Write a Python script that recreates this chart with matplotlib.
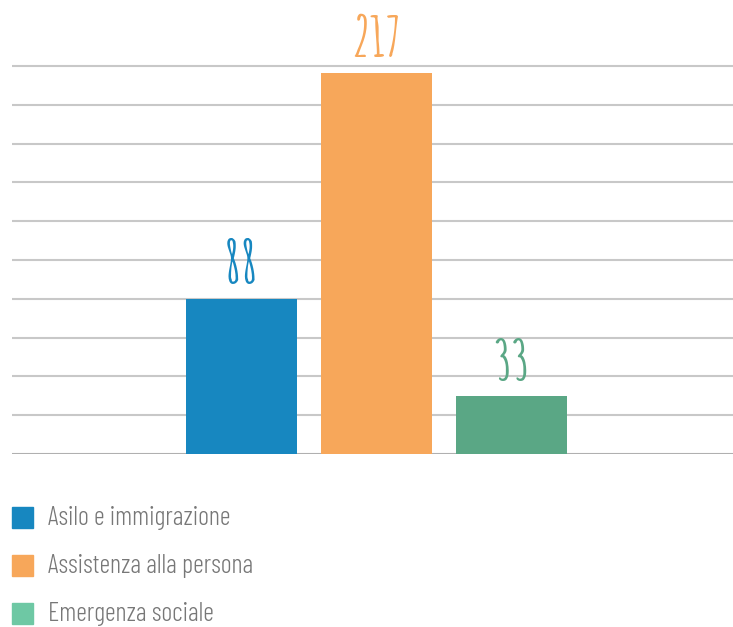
import numpy as np
import matplotlib.pyplot as plt
import matplotlib.patches as mpatches

categories = ['Asilo e immigrazione', 'Assistenza alla persona', 'Emergenza sociale']
values = [88, 217, 33]
bar_colors = ['#1787c0', '#f7a75a', '#5aa785']
legend_colors = ['#1787c0', '#f7a75a', '#6ec8a4']

W, H = 733, 627
fig = plt.figure(figsize=(W / 100, H / 100), dpi=100)
base_px, top_px = 454, 73  # baseline and top of the 217 bar, in pixels
ax = fig.add_axes([12 / W, (H - base_px) / H, 1 - 12 / W, base_px / H])
scale = (base_px - top_px) / values[1]
ax.set_ylim(0, base_px / scale)
ax.set_xlim((12 - 241.5) / 135, (733 - 241.5) / 135)

# horizontal grid, 10 bands up to the top line
step = (base_px - 66) / scale / 10
for k in range(11):
    ax.axhline(k * step, color='#c8c8c8' if k else '#b0b0b0', lw=1.5, zorder=0)

x = np.arange(len(values))
ax.bar(x, values, width=111 / 135, color=bar_colors, zorder=2)
for xi, v, c in zip(x, values, bar_colors):
    ax.text(xi, v + 15 / scale, str(v), ha='center', va='bottom', color=c,
            fontsize=40, family='Amatic SC', fontweight='bold')
ax.axis('off')

for i, (lab, c) in enumerate(zip(categories, legend_colors)):
    y = 517.5 + 48 * i
    fig.patches.append(mpatches.Rectangle((12 / W, 1 - (y + 10.5) / H), 21 / W, 21 / H,
                                          transform=fig.transFigure, color=c))
    fig.text(48 / W, 1 - (y + 8) / H, lab, va='baseline', ha='left', color='#777777',
             fontsize=19, family='Barlow Condensed', fontweight=300)

fig.savefig('out.png', dpi=100)
